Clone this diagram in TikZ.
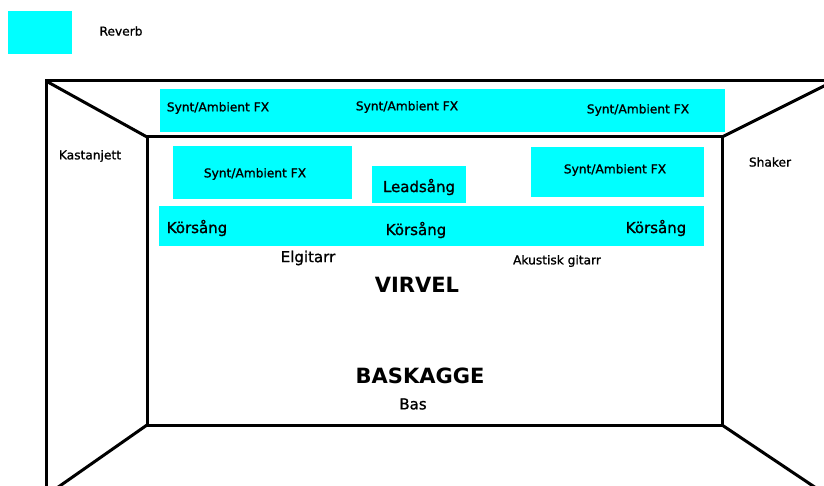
\documentclass[tikz,border=0pt]{standalone}
\usepackage{fontspec}
\setmainfont{DejaVu Sans}
\newfontfamily\thickfont[FakeBold=1.2]{DejaVu Sans}
\definecolor{aqua}{RGB}{0,255,255}
\tikzset{
  band/.style={fill=aqua, draw=none},
  wall/.style={line width=3pt, line join=miter},
  lbl/.style={inner sep=0pt, font=\thickfont\fontsize{12.2}{14}\selectfont},
  mid/.style={inner sep=0pt, font=\thickfont\fontsize{15}{17}\selectfont},
  big/.style={inner sep=0pt, font=\thickfont\fontsize{15}{17}\selectfont},
  huge/.style={inner sep=0pt, font=\bfseries\fontsize{21}{24}\selectfont},
}
\begin{document}
\begin{tikzpicture}[x=1pt,y=-1pt]
\useasboundingbox (0,0) rectangle (824,486);
\clip (0,0) rectangle (824,486);
% legend
\fill[band] (8,11) rectangle (72,54);
\node[lbl] (reverb) at (121,31) {Reverb};
% cyan bands
\fill[band] (160,89) rectangle (725,132);
\fill[band] (173,146) rectangle (352,199);
\fill[band] (372,166) rectangle (466,203);
\fill[band] (531,147) rectangle (704,197);
\fill[band] (159,206) rectangle (704,246);
% room
\coordinate (otl) at (46,81);
\coordinate (itl) at (147,137);
\coordinate (itr) at (722,137);
\coordinate (ibl) at (147,425);
\coordinate (ibr) at (722,425);
\draw[wall] (46,490) -- (otl) -- (835,81);
\draw[wall] (otl) -- (itl);
\draw[wall] (itl) rectangle (ibr);
\draw[wall] (itr) -- (838,79);
\draw[wall] (ibl) -- (54,490);
\draw[wall] (ibr) -- (822,492);
% labels
\node[lbl] (fx1) at (218,108) {Synt/Ambient FX};
\node[lbl] (fx2) at (407,107) {Synt/Ambient FX};
\node[lbl] (fx3) at (638,110) {Synt/Ambient FX};
\node[lbl] (fx4) at (255,174) {Synt/Ambient FX};
\node[lbl] (fx5) at (615,170) {Synt/Ambient FX};
\node[big] (lead) at (419,187) {Leadsång};
\node[big] (kor1) at (197,228) {Körsång};
\node[big] (kor2) at (416,230) {Körsång};
\node[big] (kor3) at (656,228) {Körsång};
\node[lbl] (kast) at (90,156) {Kastanjett};
\node[lbl] (shaker) at (770,162) {Shaker};
\node[mid] (elg) at (308,258) {Elgitarr};
\node[lbl] (aku) at (557,261) {Akustisk gitarr};
\node[huge] (virvel) at (417,285) {VIRVEL};
\node[huge] (bask) at (420,376) {BASKAGGE};
\node[mid] (bas) at (413,404) {Bas};
\end{tikzpicture}
\end{document}
